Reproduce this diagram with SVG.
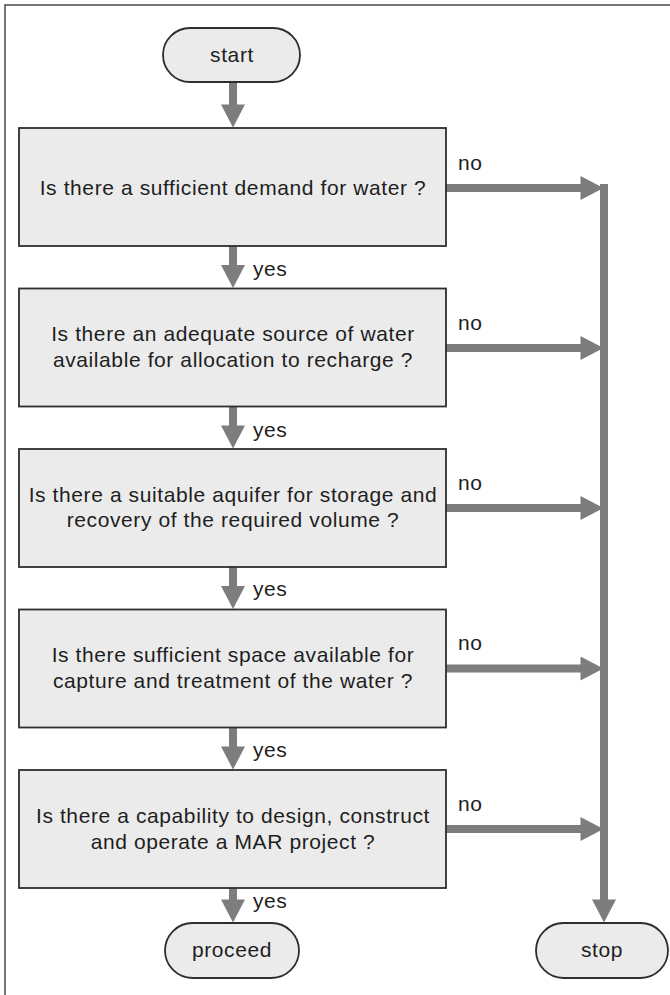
<svg xmlns="http://www.w3.org/2000/svg" width="670" height="995" viewBox="0 0 670 995">
<style>
.frame{fill:none;stroke:#4a4a4a;stroke-width:1.5}
.box{fill:#ebebeb;stroke:#2e2e2e;stroke-width:1.8}
.term{fill:#ebebeb;stroke:#2e2e2e;stroke-width:1.8}
.t{font-family:"Liberation Sans",Arial,sans-serif;font-size:21px;letter-spacing:0.6px;fill:#1e1e1e;text-anchor:middle}
.lbl{font-family:"Liberation Sans",Arial,sans-serif;font-size:21px;letter-spacing:0.5px;fill:#1e1e1e}
.c{fill:none;stroke:#7d7d7d;stroke-width:8}
</style>
<defs>
<marker id="ah" markerUnits="userSpaceOnUse" markerWidth="24" markerHeight="24" viewBox="0 0 23 24" refX="0.5" refY="12" orient="auto">
<path d="M0,0 L23,12 L0,24 Z" fill="#7d7d7d"/>
</marker>
</defs>
<rect class="frame" x="5" y="5" width="700" height="1000"/>
<g id="connectors">
<path class="c" d="M233,82 V105" marker-end="url(#ah)"/>
<path class="c" d="M233,246 V265.5" marker-end="url(#ah)"/>
<path class="c" d="M233,406.5 V426" marker-end="url(#ah)"/>
<path class="c" d="M233,567 V586.5" marker-end="url(#ah)"/>
<path class="c" d="M233,727.5 V747" marker-end="url(#ah)"/>
<path class="c" d="M233,888 V900" marker-end="url(#ah)"/>
<path class="c" d="M446,188 H581" marker-end="url(#ah)"/>
<path class="c" d="M446,348 H581" marker-end="url(#ah)"/>
<path class="c" d="M446,508 H581" marker-end="url(#ah)"/>
<path class="c" d="M446,668.5 H581" marker-end="url(#ah)"/>
<path class="c" d="M446,829 H581" marker-end="url(#ah)"/>
<path class="c" d="M604,184 V900" marker-end="url(#ah)"/>
<text class="lbl" x="458" y="170">no</text>
<text class="lbl" x="458" y="330">no</text>
<text class="lbl" x="458" y="490">no</text>
<text class="lbl" x="458" y="650">no</text>
<text class="lbl" x="458" y="811">no</text>
<text class="lbl" x="253" y="276">yes</text>
<text class="lbl" x="253" y="437">yes</text>
<text class="lbl" x="253" y="596">yes</text>
<text class="lbl" x="253" y="757">yes</text>
<text class="lbl" x="253" y="908">yes</text>
</g>
<g id="start">
<rect class="term" x="163" y="28" width="137" height="54" rx="27" ry="27"/>
<text class="t" x="232" y="62">start</text>
</g>
<g id="q1">
<rect class="box" x="19" y="128" width="427" height="118"/>
<text class="t" x="233" y="195">Is there a sufficient demand for water ?</text>
</g>
<g id="q2">
<rect class="box" x="19" y="288.5" width="427" height="118"/>
<text class="t" x="233" y="341">Is there an adequate source of water</text>
<text class="t" x="233" y="367">available for allocation to recharge ?</text>
</g>
<g id="q3">
<rect class="box" x="19" y="449" width="427" height="118"/>
<text class="t" x="233" y="502">Is there a suitable aquifer for storage and</text>
<text class="t" x="233" y="527">recovery of the required volume ?</text>
</g>
<g id="q4">
<rect class="box" x="19" y="609.5" width="427" height="118"/>
<text class="t" x="233" y="662">Is there sufficient space available for</text>
<text class="t" x="233" y="688">capture and treatment of the water ?</text>
</g>
<g id="q5">
<rect class="box" x="19" y="770" width="427" height="118"/>
<text class="t" x="233" y="823">Is there a capability to design, construct</text>
<text class="t" x="233" y="849">and operate a MAR project ?</text>
</g>
<g id="proceed">
<rect class="term" x="165" y="923" width="134" height="55" rx="27.5" ry="27.5"/>
<text class="t" x="232" y="957">proceed</text>
</g>
<g id="stop">
<rect class="term" x="536" y="923" width="132" height="55" rx="27.5" ry="27.5"/>
<text class="t" x="602" y="957">stop</text>
</g>
</svg>
